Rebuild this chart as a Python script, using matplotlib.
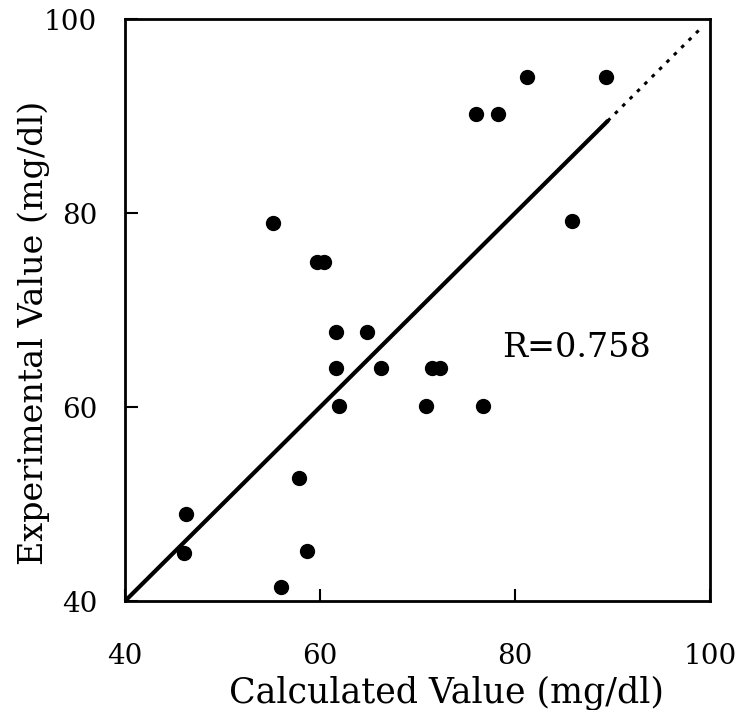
import matplotlib
matplotlib.use("Agg")
import matplotlib.pyplot as plt

# Calculated vs experimental values (mg/dl)
calc = [46.0, 46.3, 55.2, 56.0, 57.8, 58.7, 59.7, 60.4, 61.6, 61.6, 61.9,
        64.8, 66.3, 70.9, 71.5, 72.3, 76.0, 78.3, 76.7, 81.2, 89.3, 85.8]
expt = [45.0, 49.0, 79.0, 41.4, 52.7, 45.2, 75.0, 75.0, 67.7, 64.0, 60.1,
        67.7, 64.0, 60.1, 64.0, 64.0, 90.2, 90.2, 60.1, 94.0, 94.0, 79.2]
fit_solid = [40, 89.5]
fit_dotted = [89.5, 99.2]
ticks = [40, 60, 80, 100]

plt.rcParams['font.family'] = ['DejaVu Serif']

fig = plt.figure(figsize=(7.4, 7.1), dpi=100)
ax = fig.add_axes([0.169, 0.1535, 0.7905, 0.8195])

ax.plot(fit_solid, fit_solid, color='black', lw=3, solid_capstyle='round')
ax.plot(fit_dotted, fit_dotted, color='black', lw=2.2, linestyle=(0, (1.2, 2.2)))
ax.plot(calc, expt, 'o', color='black', markersize=10)

ax.text(78.7, 65.15, "R=0.758", fontsize=24, ha='left', va='baseline')

ax.set_xlim(40, 100)
ax.set_ylim(40, 100)
ax.set_xticks(ticks)
ax.set_yticks(ticks)
ax.tick_params(direction='in', length=9, width=1.5, labelsize=20)
ax.tick_params(axis='x', pad=30)
ax.tick_params(axis='y', pad=20)
for s in ax.spines.values():
    s.set_linewidth(2)

ax.set_xlabel("Calculated Value (mg/dl)", fontsize=25)
ax.xaxis.label.set_va('baseline')
ax.xaxis.set_label_coords(0.55, -0.175)
ax.set_ylabel("Experimental Value (mg/dl)", fontsize=24)
ax.yaxis.set_label_coords(-0.128, 0.4605)

fig.savefig("out.png", dpi=100)
